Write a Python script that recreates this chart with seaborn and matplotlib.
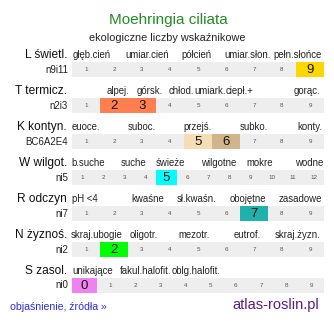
import numpy as np
import matplotlib
matplotlib.use("Agg")
import matplotlib.pyplot as plt
from matplotlib.colors import ListedColormap
import seaborn as sns

# ---------------- data ----------------
title = "Moehringia ciliata"
subtitle = "ekologiczne liczby wskaźnikowe"
row_titles = ["L świetl.", "T termicz.", "K kontyn.", "W wilgot.", "R odczyn", "N żyznoś.", "S zasol."]
row_codes = ["n9i11", "n2i3", "BC6A2E4", "ni5", "ni7", "ni2", "ni0"]
scale_start = [1, 1, 1, 1, 1, 1, 0]
scale_end = [9, 9, 9, 12, 9, 9, 9]
highlight_values = [[9], [2, 3], [5, 6], [5], [7], [2], [0]]
highlight_colors = [["#FFD700"], ["#FF7F50", "#FF7F50"], ["#F5DEB3", "#D2B48C"],
                    ["#00FFFF"], ["#20B2AA"], ["#00FF00"], ["#EE82EE"]]
cat_L = ["głęb.cień", "umiar.cień", "półcień", "umiar.słon.", "pełn.słońce"]
cat_T = ["alpej.", "górsk.", "chłod.", "umiark.", "ciepł.+", "gorąc."]
cat_K = ["euoce.", "suboc.", "przejś.", "subko.", "konty."]
cat_W = ["b.suche", "suche", "świeże", "wilgotne", "mokre", "wodne"]
cat_R = ["pH <4", "kwaśne", "sł.kwaśn.", "obojętne", "zasadowe"]
cat_N = ["skraj.ubogie", "oligotr.", "mezotr.", "eutrof.", "skraj.żyzn."]
cat_S = ["unikające", "fakul.halofit.", "oblg.halofit."]
categories = [cat_L, cat_T, cat_K, cat_W, cat_R, cat_N, cat_S]
footer_left = "objaśnienie, źródła »"
footer_right = "atlas-roslin.pl"

# ---------------- layout (pixels) ----------------
W, H = 334, 322
cat_x = [[92, 147, 196, 248, 298],
         [118, 150, 181, 210, 240, 307],
         [86, 142, 198, 254, 310],
         [88, 134, 170, 219, 260, 309],
         [85, 148, 197, 248, 300],
         [97, 144, 194, 247, 298],
         [93, 146, 196]]
bar_left, bar_width, bar_h = 72, 252, 15
first_top, step = 62, 36
FONT = ["Liberation Sans", "DejaVu Sans"]

sns.set_theme(style="white")
plt.rcParams["font.family"] = FONT

fig = plt.figure(figsize=(W / 100, H / 100), dpi=100)
fig.patch.set_facecolor("white")
bg = fig.add_axes([0, 0, 1, 1])
bg.set_xlim(0, W)
bg.set_ylim(H, 0)
bg.axis("off")

bg.text(168, 20, title, ha="center", va="center", fontsize=11, color="#228B22")
bg.text(167, 38, subtitle, ha="center", va="center", fontsize=7.8, color="#222222")

for r in range(len(row_titles)):
    top = first_top + r * step
    label_y = top - 7
    bg.text(67, label_y, row_titles[r], ha="right", va="center", fontsize=8.6, color="#111111")
    bg.text(68, top + bar_h / 2, row_codes[r], ha="right", va="center", fontsize=7, color="#222222")
    for lab, x in zip(categories[r], cat_x[r]):
        bg.text(x, label_y, lab, ha="center", va="center", fontsize=6.9, color="#222222")

    values = list(range(scale_start[r], scale_end[r] + 1))
    n = len(values)
    palette = ["#EEEEEE"]
    codes = np.zeros((1, n))
    for hv, hc in zip(highlight_values[r], highlight_colors[r]):
        if hc not in palette:
            palette.append(hc)
        codes[0, values.index(hv)] = palette.index(hc)
    ax = fig.add_axes([bar_left / W, 1 - (top + bar_h) / H, bar_width / W, bar_h / H])
    sns.heatmap(codes, ax=ax, cmap=ListedColormap(palette), vmin=-0.5,
                vmax=len(palette) - 0.5, cbar=False, xticklabels=False,
                yticklabels=False, linewidths=0)
    ax.set_xlabel("")
    ax.set_ylabel("")
    for i, v in enumerate(values):
        if v in highlight_values[r]:
            ax.text(i + 0.5, 0.55, str(v), ha="center", va="center", fontsize=9.5, color="#111111")
        else:
            ax.text(i + 0.5, 0.5, str(v), ha="center", va="center", fontsize=4.5, color="#555555")

bg.text(10, 307, footer_left, ha="left", va="center", fontsize=7.6, color="#2B2BE0")
bg.text(319, 305, footer_right, ha="right", va="center", fontsize=10.5, color="#5A1A8A")

fig.savefig("out.png", dpi=100, facecolor="white")
